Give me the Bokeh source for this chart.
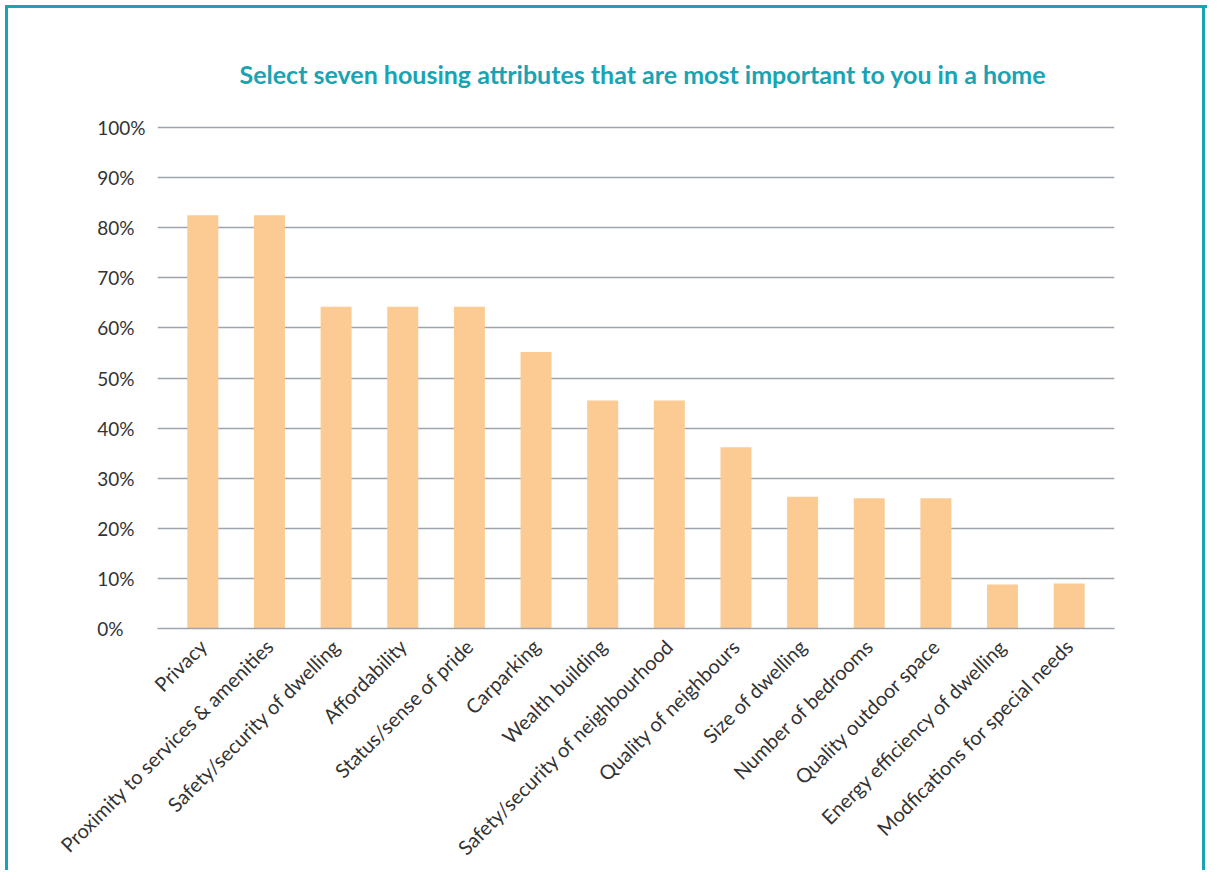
import math
from bokeh.plotting import figure
from bokeh.models import Title, FixedTicker, FactorRange
from bokeh.embed import file_html
from bokeh.resources import INLINE

categories = [
    "Privacy",
    "Proximity to services & amenities",
    "Safety/security of dwelling",
    "Affordability",
    "Status/sense of pride",
    "Carparking",
    "Wealth building",
    "Safety/security of neighbourhood",
    "Quality of neighbours",
    "Size of dwelling",
    "Number of bedrooms",
    "Quality outdoor space",
    "Energy efficiency of dwelling",
    "Modfications for special needs",
]
values = [82.5, 82.5, 64.2, 64.2, 64.2, 55.2, 45.5, 45.5, 36.2, 26.3, 26.0, 26.0, 8.8, 9.0]
y_ticks = [0, 10, 20, 30, 40, 50, 60, 70, 80, 90, 100]
title_text = "Select seven housing attributes that are most important to you in a home"

FONT = "Lato"
TEAL = "#1AA3B3"
FIG_SPACE = "\u2007"

p = figure(
    x_range=FactorRange(factors=categories, range_padding=0.18, range_padding_units="absolute"),
    y_range=(0, 101),
    width=1210, height=870,
    output_backend="svg", toolbar_location=None,
    min_border_left=157, min_border_right=96,
    min_border_top=122, min_border_bottom=241,
)
p.background_fill_alpha = 0
p.border_fill_alpha = 0
grad = f"linear-gradient({TEAL},{TEAL})"
p.styles = {
    "background": (
        f"{grad} 5px 5px / 3px 100% no-repeat, "
        f"{grad} 5px 5px / calc(100% - 8px) 3px no-repeat, "
        f"{grad} calc(100% - 5px) 5px / 3px 100% no-repeat, white"
    )
}

p.vbar(x=categories, top=values, width=0.465, color="#FBCB93", line_color=None)

p.outline_line_color = None
p.xgrid.grid_line_color = None
p.ygrid.grid_line_color = "#9EA4AC"
p.ygrid.grid_line_width = 1.5
p.ygrid.ticker = FixedTicker(ticks=y_ticks)

# left-aligned percentage labels: pad shorter labels with figure spaces
overrides = {}
for t in y_ticks:
    s = f"{t}%"
    overrides[t] = s + FIG_SPACE * (4 - len(s))

p.yaxis.ticker = FixedTicker(ticks=y_ticks)
p.yaxis.major_label_overrides = overrides
p.yaxis.axis_line_color = None
p.yaxis.major_tick_line_color = None
p.yaxis.minor_tick_line_color = None
p.yaxis.major_label_standoff = 6
p.yaxis.major_label_text_font = FONT
p.yaxis.major_label_text_font_size = "19px"
p.yaxis.major_label_text_color = "#333333"

p.xaxis.axis_line_color = "#9EA4AC"
p.xaxis.axis_line_width = 1.5
p.xaxis.major_tick_line_color = None
p.xaxis.minor_tick_line_color = None
p.xaxis.major_label_orientation = math.pi / 4
p.xaxis.major_label_standoff = 8
p.xaxis.major_label_text_font = FONT
p.xaxis.major_label_text_font_size = "20px"
p.xaxis.major_label_text_color = "#333333"

title = Title(
    text=title_text, align="left", offset=82, standoff=67,
    text_font=FONT, text_font_style="bold", text_font_size="25px",
    text_color=TEAL,
)
p.add_layout(title, "above")

open("out.html", "w").write(file_html(p, INLINE))
